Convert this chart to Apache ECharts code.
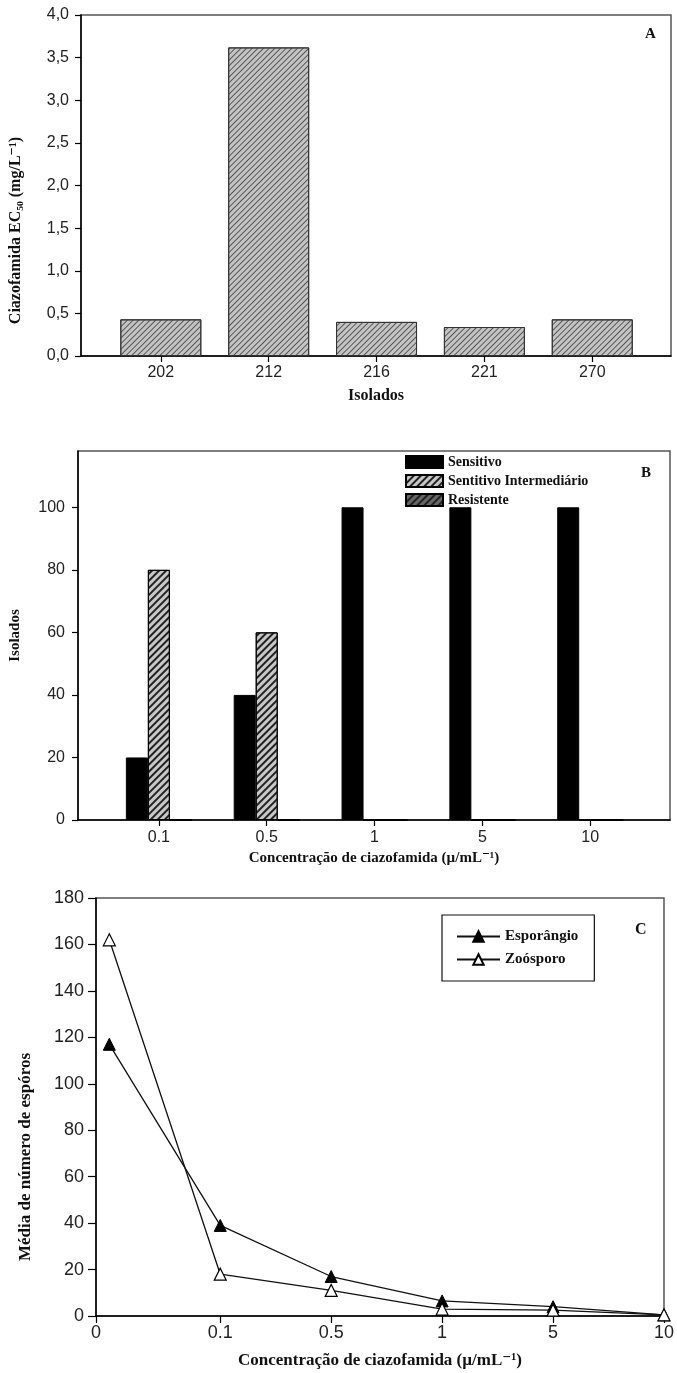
<!DOCTYPE html>
<html>
<head>
<meta charset="utf-8">
<script src="https://cdn.jsdelivr.net/npm/echarts@6/dist/echarts.min.js"></script>
<style>
  html, body { margin: 0; padding: 0; background: #fff; }
  #chart { width: 677px; height: 1373px; }
</style>
</head>
<body>
<div id="chart"></div>
<script>
// A: EC50 por isolado
const isolados = ['202', '212', '216', '221', '270'];
const ec50 = [0.43, 3.62, 0.40, 0.34, 0.43];

// B: classes de sensibilidade por concentração
const concB = ['0.1', '0.5', '1', '5', '10'];
const sensitivo = [20, 40, 100, 100, 100];
const intermediario = [80, 60, 0, 0, 0];
const resistente = [0, 0, 0, 0, 0];
const ticksB = [0, 20, 40, 60, 80, 100];

// C: média de esporos
const concC = ['0', '0.1', '0.5', '1', '5', '10'];
const esporangio = [117, 39, 17, 6.5, 4, 0.5];
const zoosporo = [162, 18, 11, 3, 2.5, 0.5];

const sans = 'Liberation Sans, Arial, sans-serif';
const serif = 'Liberation Serif, Times New Roman, DejaVu Serif, serif';

// hachuras
function hatch(color, gap, width) {
  return {
    symbol: 'rect',
    symbolSize: 1,
    color: color,
    dashArrayX: [1, 0],
    dashArrayY: [width, gap],
    rotation: -Math.PI / 4
  };
}

function idx(arr) {
  return arr.map((v, i) => [i, v]);
}

const axisLine = { show: true, onZero: false, lineStyle: { color: '#000', width: 1.5 } };
const tick = (len) => ({ show: true, inside: false, length: len, lineStyle: { color: '#000', width: 1.2 } });
const nameStyle = (size) => ({ fontFamily: serif, fontWeight: 'bold', fontSize: size, color: '#111' });
const labelStyle = (size, margin) => ({ fontFamily: sans, fontSize: size, color: '#222', margin: margin });
const gridBox = { show: true, borderColor: '#555', borderWidth: 1.5, backgroundColor: '#fff' };

const xMinC = -0.12;

const chart = echarts.init(document.getElementById('chart'), null, { renderer: 'canvas' });
chart.setOption({
  animation: false,
  backgroundColor: '#fff',
  title: [
    { text: 'A', left: 640, top: 22, textStyle: { fontFamily: serif, fontWeight: 'bold', fontSize: 15, color: '#111' } },
    { text: 'B', left: 636, top: 461, textStyle: { fontFamily: serif, fontWeight: 'bold', fontSize: 15, color: '#111' } },
    { text: 'C', left: 630, top: 917, textStyle: { fontFamily: serif, fontWeight: 'bold', fontSize: 16, color: '#111' } }
  ],
  grid: [
    Object.assign({ left: 80, top: 15, width: 591, height: 341 }, gridBox),
    Object.assign({ left: 76, top: 451, width: 594, height: 369 }, gridBox),
    Object.assign({ left: 96, top: 898, width: 572, height: 418 }, gridBox)
  ],
  legend: [
    {
      data: ['Sensitivo', 'Sentitivo Intermediário', 'Resistente'],
      icon: 'rect',
      orient: 'vertical',
      left: 405,
      top: 455,
      itemWidth: 37,
      itemHeight: 12,
      itemGap: 5,
      padding: 0,
      textStyle: { fontFamily: serif, fontWeight: 'bold', fontSize: 14, color: '#111' }
    },
    {
      data: ['Esporângio', 'Zoósporo'],
      orient: 'vertical',
      left: 442,
      top: 915,
      itemWidth: 43,
      itemHeight: 13,
      itemGap: 8,
      padding: [14, 16, 14, 14],
      borderColor: '#111',
      borderWidth: 1.2,
      textStyle: { fontFamily: serif, fontWeight: 'bold', fontSize: 15, color: '#111' }
    }
  ],
  xAxis: [
    {
      gridIndex: 0, type: 'value', min: -0.74, max: 4.73,
      name: 'Isolados', nameLocation: 'middle', nameGap: 32, nameTextStyle: nameStyle(16),
      axisLine: axisLine, axisTick: Object.assign(tick(6), { customValues: [0, 1, 2, 3, 4] }),
      axisLabel: Object.assign(labelStyle(16, 9), { customValues: [0, 1, 2, 3, 4], formatter: v => isolados[Math.round(v)] }),
      splitLine: { show: false }
    },
    {
      gridIndex: 1, type: 'value', min: -0.75, max: 4.74,
      name: 'Concentração de ciazofamida (µ/mL⁻¹)', nameLocation: 'middle', nameGap: 31, nameTextStyle: nameStyle(15),
      axisLine: axisLine, axisTick: Object.assign(tick(6), { customValues: [0, 1, 2, 3, 4] }),
      axisLabel: Object.assign(labelStyle(16, 10), { customValues: [0, 1, 2, 3, 4], formatter: v => concB[Math.round(v)] }),
      splitLine: { show: false }
    },
    {
      gridIndex: 2, type: 'value', min: xMinC, max: 5,
      name: 'Concentração de ciazofamida (µ/mL⁻¹)', nameLocation: 'middle', nameGap: 36, nameTextStyle: nameStyle(17),
      axisLine: axisLine, axisTick: Object.assign(tick(7), { customValues: [xMinC, 1, 2, 3, 4, 5] }),
      axisLabel: Object.assign(labelStyle(18, 8), {
        customValues: [xMinC, 1, 2, 3, 4, 5],
        formatter: v => concC[Math.max(0, Math.round(v))]
      }),
      splitLine: { show: false }
    }
  ],
  yAxis: [
    {
      gridIndex: 0, type: 'value', min: 0, max: 4, interval: 0.5,
      name: 'Ciazofamida EC₅₀ (mg/L⁻¹)', nameLocation: 'middle', nameGap: 57,
      nameTextStyle: Object.assign(nameStyle(16), { padding: [0, 90, 0, 0] }),
      axisLine: axisLine, axisTick: tick(6),
      axisLabel: Object.assign(labelStyle(16, 12), { formatter: v => v.toFixed(1).replace('.', ',') }),
      splitLine: { show: false }
    },
    {
      gridIndex: 1, type: 'value', min: 0, max: 118,
      name: 'Isolados', nameLocation: 'middle', nameGap: 55, nameTextStyle: nameStyle(15),
      axisLine: axisLine, axisTick: Object.assign(tick(6), { customValues: ticksB }),
      axisLabel: Object.assign(labelStyle(16, 13), { customValues: ticksB }),
      splitLine: { show: false }
    },
    {
      gridIndex: 2, type: 'value', min: 0, max: 180, interval: 20,
      name: 'Média de número de espóros', nameLocation: 'middle', nameGap: 62,
      nameTextStyle: Object.assign(nameStyle(17), { padding: [0, 100, 0, 0] }),
      axisLine: axisLine, axisTick: tick(8),
      axisLabel: labelStyle(18, 12),
      splitLine: { show: false }
    }
  ],
  series: [
    {
      name: 'EC50', type: 'bar', xAxisIndex: 0, yAxisIndex: 0,
      data: idx(ec50), barWidth: 81,
      itemStyle: { color: '#c4c4c4', borderColor: '#333', borderWidth: 1, decal: hatch('#555', 3, 1) }
    },
    {
      name: 'Sensitivo', type: 'bar', xAxisIndex: 1, yAxisIndex: 1,
      data: idx(sensitivo), barWidth: 22, barGap: '0%',
      itemStyle: { color: '#000', borderColor: '#000', borderWidth: 1 }
    },
    {
      name: 'Sentitivo Intermediário', type: 'bar', xAxisIndex: 1, yAxisIndex: 1,
      data: idx(intermediario), barWidth: 22, barGap: '0%',
      itemStyle: { color: '#c8c8c8', borderColor: '#000', borderWidth: 1, decal: hatch('#222', 3, 1.6) }
    },
    {
      name: 'Resistente', type: 'bar', xAxisIndex: 1, yAxisIndex: 1,
      data: idx(resistente), barWidth: 22, barGap: '0%',
      itemStyle: { color: '#666', borderColor: '#000', borderWidth: 1, decal: hatch('#222', 3, 1.6) }
    },
    {
      name: 'Esporângio', type: 'line', xAxisIndex: 2, yAxisIndex: 2,
      data: idx(esporangio), symbol: 'triangle', symbolSize: 12,
      lineStyle: { color: '#111', width: 1.3 },
      itemStyle: { color: '#000', borderColor: '#000', borderWidth: 1 }
    },
    {
      name: 'Zoósporo', type: 'line', xAxisIndex: 2, yAxisIndex: 2,
      data: idx(zoosporo), symbol: 'triangle', symbolSize: 12,
      lineStyle: { color: '#111', width: 1.3 },
      itemStyle: { color: '#fff', borderColor: '#000', borderWidth: 1.2 }
    }
  ]
});
</script>
</body>
</html>
